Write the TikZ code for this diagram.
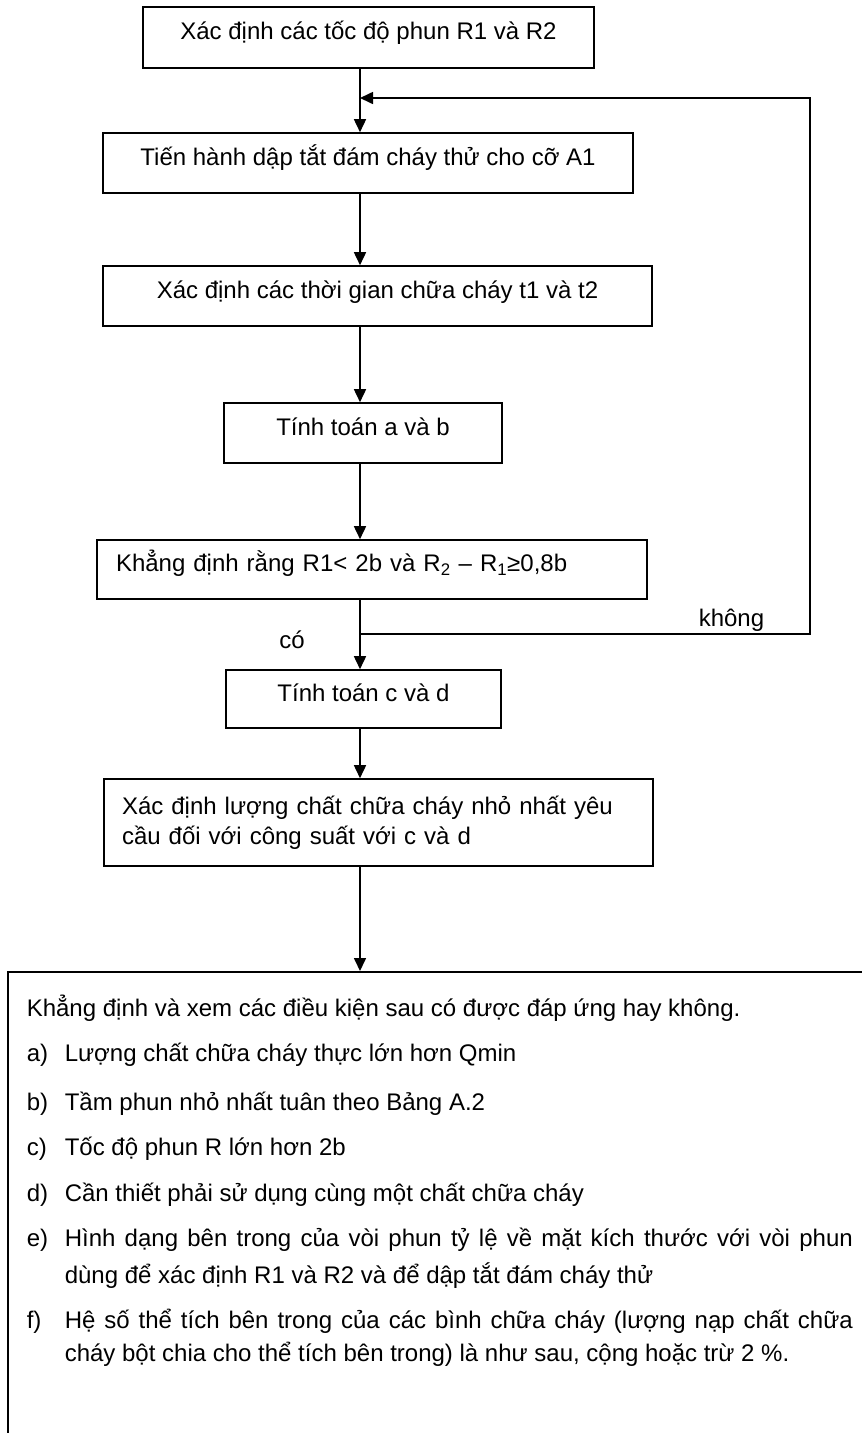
\documentclass[tikz,border=0pt]{standalone}
\usepackage{fontspec}
\setmainfont{Liberation Sans}
\usetikzlibrary{arrows.meta}

\begin{document}
\begin{tikzpicture}[x=1pt,y=-1pt,line width=1.6pt,>={Triangle[length=13pt,width=12pt]},font=\fontsize{24}{30}\selectfont]
		\tikzstyle{box}=[draw,shape=rectangle,inner sep=0pt,text height=18pt,text depth=14pt]
		\tikzstyle{para}=[draw,shape=rectangle,inner sep=0pt,align=left]
		\tikzstyle{lbl}=[anchor=base west,inner sep=0pt]
		\useasboundingbox (0,0) rectangle (862,1433);

		\node[box,minimum width=451pt,minimum height=61pt](b1) at (368.5,37.5){Xác định các tốc độ phun R1 và R2};
		\node[box,minimum width=530pt,minimum height=60pt](b2) at (368,163){Tiến hành dập tắt đám cháy thử cho cỡ A1};
		\node[box,minimum width=549pt,minimum height=60pt](b3) at (377.5,296){Xác định các thời gian chữa cháy t1 và t2};
		\node[box,minimum width=278pt,minimum height=60pt](b4) at (363,433){Tính toán a và b};
		\node[box,minimum width=550pt,minimum height=59pt,text width=512pt](b5) at (372,569.5){Khẳng định rằng R1< 2b và R\textsubscript{2} – R\textsubscript{1}≥0,8b};
		\node[box,minimum width=275pt,minimum height=58pt](b6) at (363.5,699){Tính toán c và d};
		\node[para,minimum width=549pt,minimum height=87pt,text width=513pt](b7) at (378.5,822.5){Xác định lượng chất chữa cháy nhỏ nhất yêu\\cầu đối với công suất với c và d};
%
		\node[draw,minimum width=863pt,minimum height=474pt,anchor=north west](chk) at (7,971){};

		\node[lbl](intro) at (26,1016){Khẳng định và xem các điều kiện sau có được đáp ứng hay không.};
		\node[lbl](ia) at (26,1061){a)};
		\node[lbl](ta) at (64,1061){Lượng chất chữa cháy thực lớn hơn Qmin};
		\node[lbl](ib) at (26,1110){b)};
		\node[lbl](tb) at (64,1110){Tầm phun nhỏ nhất tuân theo Bảng A.2};
		\node[lbl](ic) at (26,1155){c)};
		\node[lbl](tc) at (64,1155){Tốc độ phun R lớn hơn 2b};
		\node[lbl](id) at (26,1201){d)};
		\node[lbl](td) at (64,1201){Cần thiết phải sử dụng cùng một chất chữa cháy};
		\node[lbl](ie) at (26,1246){e)};
		\node[lbl](te1) at (64,1246){\makebox[788pt][s]{Hình dạng bên trong của vòi phun tỷ lệ về mặt kích thước với vòi phun}};
		\node[lbl](te2) at (64,1283){dùng để xác định R1 và R2 và để dập tắt đám cháy thử};
		\node[lbl](if) at (26,1328){f)};
		\node[lbl](tf1) at (64,1328){\makebox[788pt][s]{Hệ số thể tích bên trong của các bình chữa cháy (lượng nạp chất chữa}};
		\node[lbl](tf2) at (64,1361){cháy bột chia cho thể tích bên trong) là như sau, cộng hoặc trừ 2 \%.};

		\coordinate (spine) at (360,0);
		\coordinate (split) at (360,634);
		\coordinate (back) at (360,98);
		\coordinate (rim) at (810,634);

		\draw[->] (b1.south -| spine) -- (b2.north -| spine);
		\draw[->] (b2.south -| spine) -- (b3.north -| spine);
		\draw[->] (b3.south -| spine) -- (b4.north -| spine);
		\draw[->] (b4.south -| spine) -- (b5.north -| spine);
		\draw[->] (b5.south -| spine) -- (b6.north -| spine);
		\draw[->] (b6.south -| spine) -- (b7.north -| spine);
		\draw[->] (b7.south -| spine) -- (chk.north -| spine);

		\draw[->] (split) -- (rim) -- (rim |- back) -- (back);
		\node[lbl,anchor=base](no) at (731.5,626){không};
		\node[lbl,anchor=base](yes) at (292,648){có};
	\end{tikzpicture}
\end{document}
